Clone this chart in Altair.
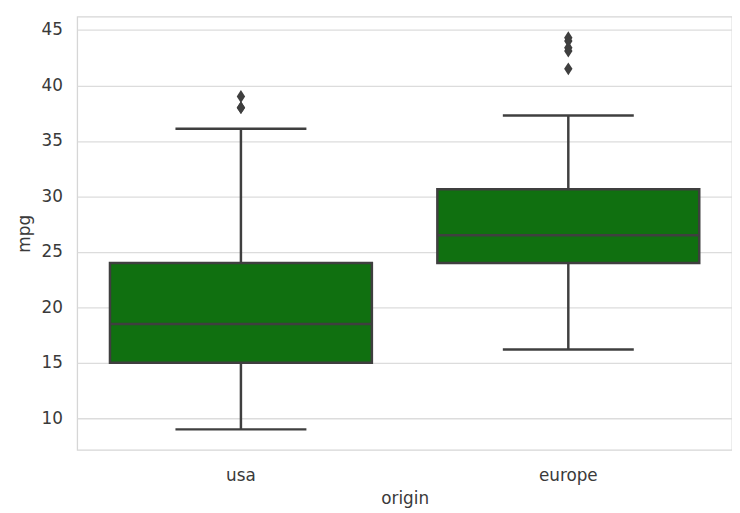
import altair as alt
import pandas as pd

# ---- data ----
origins = ["usa", "europe"]
q1 = [15.0, 24.0]
median = [18.5, 26.5]
q3 = [24.0, 30.65]
whisker_lo = [9.0, 16.2]
whisker_hi = [36.1, 37.3]

outlier_origin = ["usa", "usa", "usa", "europe", "europe", "europe", "europe", "europe"]
outlier_mpg = [38.0, 38.0, 39.0, 41.5, 43.1, 43.4, 44.0, 44.3]

y_ticks = [10, 15, 20, 25, 30, 35, 40, 45]

box_df = pd.DataFrame({
    "origin": origins, "q1": q1, "median": median, "q3": q3,
    "lo": whisker_lo, "hi": whisker_hi,
})
out_df = pd.DataFrame({"origin": outlier_origin, "mpg": outlier_mpg})

GREEN = "#107010"
LINE = "#3f3f3f"
LW = 2.5
PLOT_W = 662
PLOT_H = 438

x_enc = alt.X("origin:N", sort=origins,
              scale=alt.Scale(paddingInner=0, paddingOuter=0),
              axis=alt.Axis(title="origin", labelAngle=0, domain=False, ticks=False,
                            grid=False, labelPadding=18, titlePadding=7))
y_scale = alt.Scale(domain=[7.15, 46.2], nice=False, zero=False)
y_axis = alt.Axis(title="mpg", values=y_ticks, domain=False, ticks=False, grid=True,
                  labelPadding=15, titlePadding=8)

base = alt.Chart(box_df)

whisker = base.mark_rule(color=LINE, strokeWidth=LW).encode(
    x=x_enc,
    y=alt.Y("lo:Q", scale=y_scale, axis=y_axis),
    y2="hi:Q",
)

cap_lo = base.mark_tick(color=LINE, size=0.4 * PLOT_W / 2, thickness=LW, opacity=1).encode(
    x=x_enc, y=alt.Y("lo:Q", scale=y_scale),
)
cap_hi = base.mark_tick(color=LINE, size=0.4 * PLOT_W / 2, thickness=LW, opacity=1).encode(
    x=x_enc, y=alt.Y("hi:Q", scale=y_scale),
)

box = base.mark_bar(width=alt.RelativeBandSize(0.8), fill=GREEN, stroke=LINE,
                    strokeWidth=LW, opacity=1).encode(
    x=x_enc,
    y=alt.Y("q1:Q", scale=y_scale),
    y2="q3:Q",
)

med = base.mark_tick(color=LINE, size=0.8 * PLOT_W / 2, thickness=LW, opacity=1).encode(
    x=x_enc, y=alt.Y("median:Q", scale=y_scale),
)

outliers = alt.Chart(out_df).mark_point(
    shape="M0,-1L0.65,0L0,1L-0.65,0Z", filled=True, color=LINE, opacity=1, size=170,
).encode(
    x=x_enc, y=alt.Y("mpg:Q", scale=y_scale),
)

chart = alt.layer(whisker, box, med, cap_lo, cap_hi, outliers).properties(
    width=PLOT_W, height=PLOT_H,
    autosize=alt.AutoSizeParams(type="none"),
    padding={"left": 70, "top": 6, "right": 0, "bottom": 61},
    background="white",
).configure_view(
    stroke="#d6d6d6", strokeWidth=1.3,
).configure_axis(
    labelFont="DejaVu Sans", titleFont="DejaVu Sans",
    labelFontSize=17, titleFontSize=17, titleFontWeight="normal",
    labelColor="#3a3a3a", titleColor="#3a3a3a",
    gridColor="#dcdcdc", gridWidth=1.3,
)

chart.save("out.html", embed_options={"renderer": "svg", "actions": False})
